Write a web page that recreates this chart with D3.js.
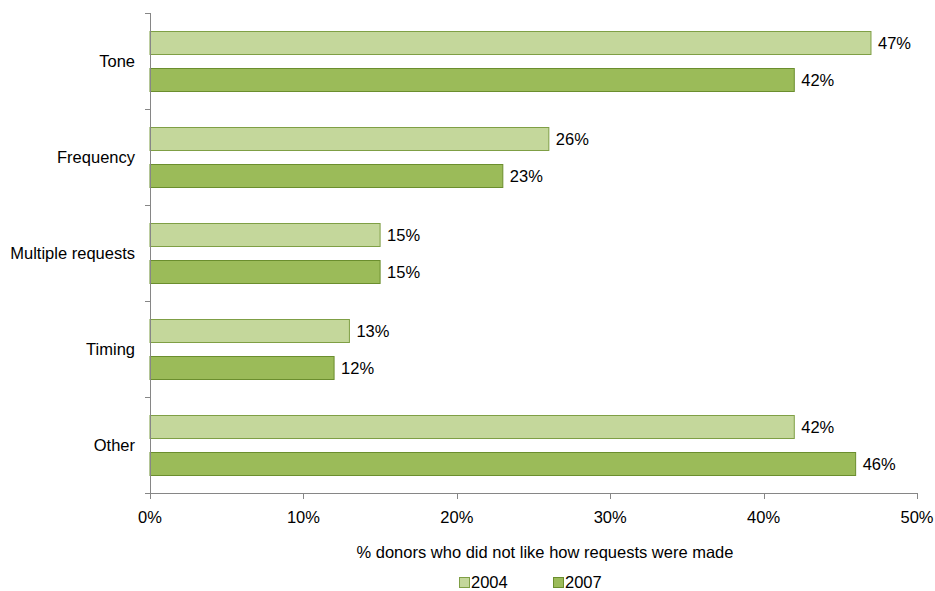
<!DOCTYPE html>
<html><head><meta charset="utf-8">
<script src="https://cdn.jsdelivr.net/npm/d3@7"></script>
<style>body{margin:0;background:#fff}svg{display:block}text{font-family:"Liberation Sans",Arial,sans-serif;fill:#000}</style>
</head><body>
<script>
const categories = ["Tone","Frequency","Multiple requests","Timing","Other"];
const seriesNames = ["2004","2007"];
const values2004 = [47,26,15,13,42];
const values2007 = [42,23,15,12,46];
const xTicks = [0,10,20,30,40,50];
const xTitle = "% donors who did not like how requests were made";

const W=935,H=591,FS=16.5;
const svg=d3.select("body").append("svg").attr("width",W).attr("height",H);
const x=d3.scaleLinear().domain([0,50]).range([150,917]);
const y=d3.scaleBand().domain(categories).range([13,493]).padding(0);
const inner=d3.scaleBand().domain(seriesNames).range([0,y.bandwidth()]).paddingInner(14/37).paddingOuter(18/37);
const fills={"2004":"#c4d79b","2007":"#9bbb59"};
const strokes={"2004":"#7f9f45","2007":"#6b8e2e"};
const data=[];
categories.forEach((c,i)=>{data.push({c,s:"2004",v:values2004[i]});data.push({c,s:"2007",v:values2007[i]});});

const axisColor="#868686";
// bars
svg.append("g").selectAll("rect").data(data).join("rect")
 .attr("x",x(0)).attr("y",d=>y(d.c)+inner(d.s)+0.5)
 .attr("width",d=>x(d.v)-x(0)).attr("height",inner.bandwidth())
 .attr("fill",d=>fills[d.s]).attr("stroke",d=>strokes[d.s]).attr("stroke-width",1);
svg.append("g").selectAll("text").data(data).join("text")
 .attr("x",d=>x(d.v)+7).attr("y",d=>y(d.c)+inner(d.s)+inner.bandwidth()/2+6)
 .attr("font-size",FS).text(d=>d.v+"%");

// y axis
const ya=svg.append("g");
ya.append("line").attr("x1",150.5).attr("x2",150.5).attr("y1",13).attr("y2",493).attr("stroke",axisColor);
const yt=categories.map(c=>y(c)).concat([493]);
ya.selectAll("line.t").data(yt).join("line").attr("class","t").attr("x1",145).attr("x2",150.5)
 .attr("y1",d=>Math.round(d)+0.5).attr("y2",d=>Math.round(d)+0.5).attr("stroke",axisColor);
ya.selectAll("text").data(categories).join("text").attr("x",135).attr("y",d=>y(d)+y.bandwidth()/2+6)
 .attr("text-anchor","end").attr("font-size",FS).text(d=>d);

// x axis
const xa=svg.append("g");
xa.append("line").attr("x1",150).attr("x2",917).attr("y1",493.5).attr("y2",493.5).attr("stroke",axisColor);
xa.selectAll("line.t").data(xTicks).join("line").attr("class","t").attr("x1",d=>Math.round(x(d))+0.5).attr("x2",d=>Math.round(x(d))+0.5)
 .attr("y1",493).attr("y2",499).attr("stroke",axisColor);
xa.selectAll("text").data(xTicks).join("text").attr("x",d=>x(d)).attr("y",523).attr("text-anchor","middle")
 .attr("font-size",FS).text(d=>d+"%");
svg.append("text").attr("x",545).attr("y",558).attr("text-anchor","middle").attr("font-size",FS).text(xTitle);

// legend
const legX=[459,553];
const lg=svg.append("g").selectAll("g").data(seriesNames).join("g").attr("transform",(d,i)=>`translate(${legX[i]},0)`);
lg.append("rect").attr("x",0.5).attr("y",577.5).attr("width",10).attr("height",10).attr("fill",d=>fills[d]).attr("stroke",d=>strokes[d]);
lg.append("text").attr("x",12).attr("y",588).attr("font-size",FS).text(d=>d);
</script>
</body></html>
